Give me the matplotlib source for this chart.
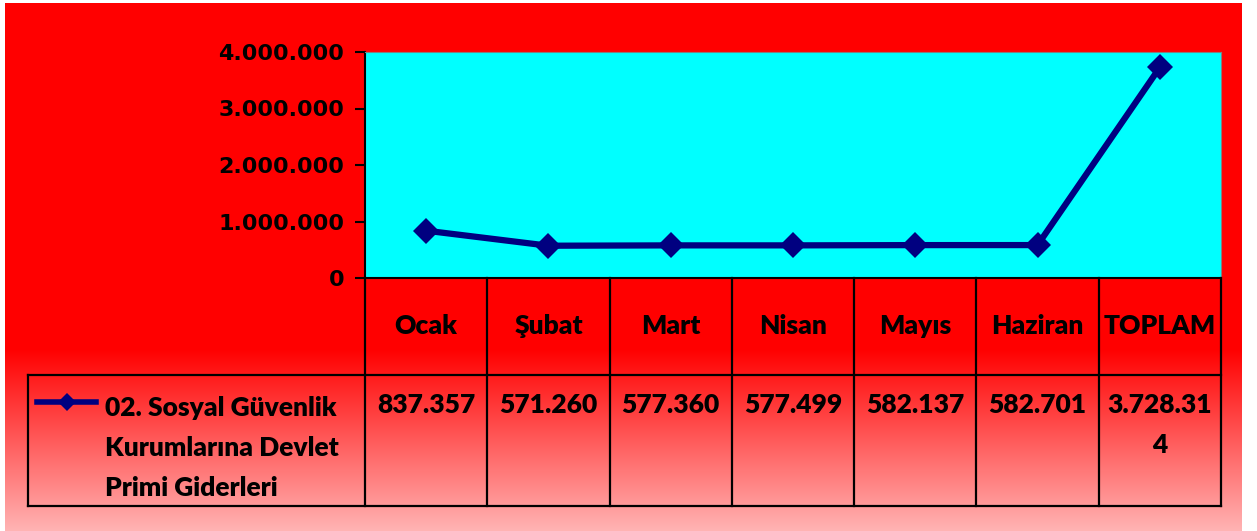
import numpy as np
import matplotlib
matplotlib.use("Agg")
import matplotlib.pyplot as plt
from matplotlib.ticker import FuncFormatter

# data
months = ["Ocak", "Şubat", "Mart", "Nisan", "Mayıs", "Haziran", "TOPLAM"]
values = [837357, 571260, 577360, 577499, 582137, 582701, 3728314]
value_labels = ["837.357", "571.260", "577.360", "577.499", "582.137", "582.701", "3.728.31\n4"]
series_name = ["02. Sosyal Güvenlik", "Kurumlarına Devlet", "Primi Giderleri"]
yticks = [0, 1000000, 2000000, 3000000, 4000000]

W, H = 1257, 531
fig = plt.figure(figsize=(W / 100, H / 100), dpi=100)
fig.patch.set_facecolor("white")

# background: red fading to pink at the bottom
bg = fig.add_axes([5 / W, 0, (1242 - 5) / W, (H - 3) / H])
bg.set_axis_off()
rows = np.arange(H - 3)
t = np.clip((rows - 345) / (H - 3 - 345), 0, 1)
g = (0 + 180 * t) / 255
grad = np.ones((len(rows), 1, 3))
grad[:, 0, 1] = g
grad[:, 0, 2] = g
bg.imshow(grad, aspect="auto", extent=[0, 1, 0, 1], origin="upper")
bg.set_xlim(0, 1)
bg.set_ylim(0, 1)

# main plot area
px_left, px_right, px_top, px_bot = 365, 1221, 52, 278
ax = fig.add_axes([px_left / W, (H - px_bot) / H, (px_right - px_left) / W, (px_bot - px_top) / H])
ax.set_facecolor("#00FFFF")
x = np.arange(len(months))
navy = "#000080"
ax.plot(x, values, color=navy, lw=4.5, marker="D", ms=13, mec=navy, mew=0, zorder=3)
ax.set_xlim(-0.5, len(months) - 0.5)
ax.set_ylim(0, 4000000)
ax.set_yticks(yticks)
ax.yaxis.set_major_formatter(FuncFormatter(lambda v, p: f"{int(v):,}".replace(",", ".")))
ax.set_xticks([])
ax.tick_params(axis="y", direction="out", length=7, width=1.5, color="black", pad=8)
for lab in ax.get_yticklabels():
    lab.set_fontfamily("DejaVu Sans")
    lab.set_fontweight("heavy")
    lab.set_fontsize(16)
ax.spines["left"].set_linewidth(1.5)
ax.spines["bottom"].set_linewidth(1.5)
ax.spines["top"].set_color("#808080")
ax.spines["right"].set_color("#808080")

# data table under the plot
unit = (px_right - px_left) / len(months)
leg_left = 28
tab_bot = 506
hdr_h = 375 - px_bot
tot_h = tab_bot - px_bot
x0 = -0.5 - (px_left - leg_left) / unit
tax = fig.add_axes([leg_left / W, (H - tab_bot) / H, (px_right - leg_left) / W, tot_h / H])
tax.set_axis_off()
tax.patch.set_alpha(0)
tax.set_xlim(x0, len(months) - 0.5)
tax.set_ylim(tot_h, 0)

lw = 1.6
for xb in np.arange(-0.5, len(months), 1.0):
    tax.plot([xb, xb], [0, tot_h], color="black", lw=lw, clip_on=False)
tax.plot([x0, len(months) - 0.5], [hdr_h, hdr_h], color="black", lw=lw, clip_on=False)
tax.plot([x0, len(months) - 0.5], [tot_h, tot_h], color="black", lw=lw, clip_on=False)
tax.plot([x0, x0], [hdr_h, tot_h], color="black", lw=lw, clip_on=False)

tfont = dict(family="Lato", fontweight="heavy", fontsize=19, color="black")
for i, m in enumerate(months):
    tax.text(i, hdr_h / 2, m, ha="center", va="center", **tfont)
    for j, part in enumerate(value_labels[i].split("\n")):
        tax.text(i, hdr_h + 30 + j * 40, part, ha="center", va="center", **tfont)

# legend key inside the table
kx = x0 + (37 - leg_left) / unit
kx2 = x0 + (96 - leg_left) / unit
tax.plot([kx, kx2], [402 - px_bot] * 2, color=navy, lw=4, clip_on=False)
tax.plot([(kx + kx2) / 2], [402 - px_bot], color=navy, marker="D", ms=9, mew=0, clip_on=False)
for j, part in enumerate(series_name):
    tax.text(x0 + (105 - leg_left) / unit, hdr_h + 33 + j * 40, part, ha="left", va="center", **tfont)

fig.savefig("out.png", dpi=100, facecolor=fig.get_facecolor())
